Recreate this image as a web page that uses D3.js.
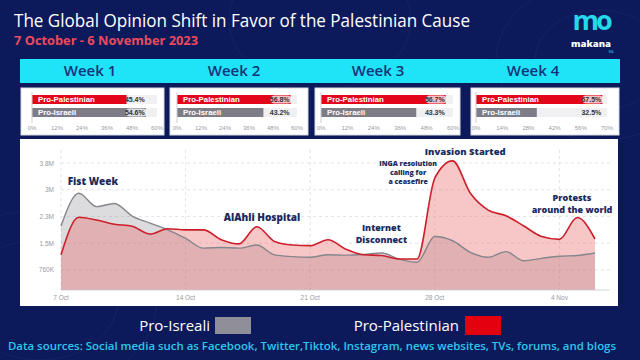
<!DOCTYPE html>
<html><head><meta charset="utf-8">
<script src="https://cdn.jsdelivr.net/npm/d3@7"></script>
<style>
html,body{margin:0;padding:0;background:#0c1a5b;}
svg{display:block;}
</style></head>
<body>
<svg id="c" width="640" height="360"></svg>
<script>
// ---------- DATA ----------
const weeks = ["Week 1", "Week 2", "Week 3", "Week 4"];
const proPalestinianShare = [45.4, 56.8, 56.7, 67.5];
const proIsraeliShare = [54.6, 43.2, 43.3, 32.5];
const weekAxisMax = [60, 60, 60, 70];

const startDate = new Date(2023, 9, 7);
const days = d3.range(31).map(i => d3.timeDay.offset(startDate, i));
// millions of mentions per day (7 Oct - 6 Nov)
const proIsraeli = [2.01, 2.94, 2.56, 2.65, 2.29, 2.09, 1.90, 1.66, 1.38, 1.40, 1.38, 1.47, 1.19, 1.14, 1.12,
  1.19, 1.18, 1.20, 1.24, 1.07, 0.98, 1.71, 1.59, 1.26, 1.12, 1.28, 1.02, 1.09, 1.15, 1.17, 1.24];
const proPalestinian = [1.19, 2.26, 2.18, 2.06, 2.00, 1.78, 1.93, 1.90, 1.90, 1.62, 1.50, 1.99, 1.57, 1.47, 1.45,
  1.62, 1.35, 1.19, 1.17, 1.07, 1.07, 3.37, 3.86, 2.94, 2.46, 2.30, 2.01, 1.71, 1.63, 2.25, 1.64];
const yMin = 0.19;
const yTicks = [0.76, 1.52, 2.28, 3.04, 3.8];
const yTickLabels = ["760K", "1.5M", "2.3M", "3M", "3.8M"];
const xTickDates = [new Date(2023,9,7), new Date(2023,9,14), new Date(2023,9,21), new Date(2023,9,28), new Date(2023,10,4)];
const xTickLabels = ["7 Oct", "14 Oct", "21 Oct", "28 Oct", "4 Nov"];

// day = days after 7 Oct, v = value level of the first text line
const annotations = [
  {day: 1.8, v: 3.17, lines: ["Fist Week"], size: 10},
  {day: 11.3, v: 2.15, lines: ["AlAhli Hospital"], size: 10},
  {day: 18.0, v: 1.87, lines: ["Internet", "Disconnect"], size: 9},
  {day: 19.5, v: 3.71, lines: ["INGA resolution", "calling for", "a ceasefire"], size: 7},
  {day: 22.7, v: 4.03, lines: ["Invasion Started"], size: 9.5},
  {day: 28.7, v: 2.72, lines: ["Protests", "around the world"], size: 9}
];

// ---------- DRAW ----------
const svg = d3.select("#c");
const navy = "#0c1a5b";
svg.append("rect").attr("width", 640).attr("height", 360).attr("fill", navy);

// faint contour texture
const tex = svg.append("g").attr("fill", "none").attr("stroke", "#2a3a7a").attr("stroke-opacity", 0.35).attr("stroke-width", 0.8);
[[40,300,60],[40,300,90],[600,60,50],[600,60,80],[320,20,70]].forEach(([cx,cy,r]) => {
  tex.append("ellipse").attr("cx", cx).attr("cy", cy).attr("rx", r*1.3).attr("ry", r);
});

// title
svg.append("text").attr("x", 14).attr("y", 27).attr("fill", "#ffffff")
  .attr("font-family", "Open Sans, sans-serif").attr("font-size", 18).attr("font-weight", 400)
  .attr("textLength", 456).attr("lengthAdjust", "spacingAndGlyphs")
  .text("The Global Opinion Shift in Favor of the Palestinian Cause");
svg.append("text").attr("x", 14).attr("y", 45).attr("fill", "#ea4a5e")
  .attr("font-family", "Open Sans, sans-serif").attr("font-size", 13).attr("font-weight", 700)
  .attr("textLength", 184).attr("lengthAdjust", "spacingAndGlyphs")
  .text("7 October - 6 November 2023");

// logo
svg.append("text").attr("x", 591).attr("y", 30).attr("text-anchor", "middle").attr("fill", "#25d9ec")
  .attr("font-family", "Open Sans, sans-serif").attr("font-size", 27).attr("font-weight", 700)
  .attr("letter-spacing", -3).text("mo");
svg.append("text").attr("x", 591).attr("y", 47).attr("text-anchor", "middle").attr("fill", "#ffffff")
  .attr("font-family", "Open Sans, sans-serif").attr("font-size", 9.5).attr("font-weight", 800)
  .text("makana");
svg.append("text").attr("x", 611).attr("y", 53).attr("text-anchor", "middle").attr("fill", "#25d9ec")
  .attr("font-family", "Open Sans, sans-serif").attr("font-size", 3).text("MA");

// cyan week band
svg.append("rect").attr("x", 20).attr("y", 59).attr("width", 600).attr("height", 24).attr("fill", "#1fe3f6");
const weekCenters = [90, 234, 378, 533];
svg.selectAll("text.week").data(weeks).join("text").attr("class", "week")
  .attr("x", (d, i) => weekCenters[i]).attr("y", 76).attr("text-anchor", "middle")
  .attr("fill", "#123478").attr("font-family", "Open Sans, sans-serif").attr("font-size", 15).attr("font-weight", 600)
  .text(d => d);

// weekly share panels
const panels = [
  {x0: 21, x1: 164, r0: 32, r1: 157},
  {x0: 170, x1: 308, r0: 177, r1: 297},
  {x0: 315, x1: 460, r0: 321, r1: 453},
  {x0: 471, x1: 619, r0: 476, r1: 607}
];
panels.forEach((p, i) => {
  const g = svg.append("g");
  g.append("rect").attr("x", p.x0).attr("y", 88).attr("width", p.x1 - p.x0).attr("height", 47)
    .attr("fill", "#ffffff").attr("stroke", "#d7d9e0").attr("stroke-width", 1);
  const xs = d3.scaleLinear().domain([0, weekAxisMax[i]]).range([p.r0, p.r1]);
  const rows = [
    {name: "Pro-Palestinian", v: proPalestinianShare[i], color: "#e3061b", y: 95},
    {name: "Pro-Israeli", v: proIsraeliShare[i], color: "#7e7d87", y: 108}
  ];
  const vmax = d3.max(rows, r => r.v);
  rows.forEach(r => {
    g.append("rect").attr("x", xs(0)).attr("y", r.y).attr("width", xs(weekAxisMax[i]) - xs(0)).attr("height", 9).attr("fill", "#f0f0f2");
    g.append("rect").attr("x", xs(0)).attr("y", r.y).attr("width", xs(r.v) - xs(0)).attr("height", 9).attr("fill", r.color);
    g.append("text").attr("x", xs(0) + 6).attr("y", r.y + 7).attr("fill", "#ffffff")
      .attr("font-family", "Liberation Sans, Arial, sans-serif").attr("font-size", 7.8).attr("font-weight", 700).text(r.name);
    const lx = xs(vmax) + 1;
    if (r.v === vmax) {
      g.append("rect").attr("x", lx - 21).attr("y", r.y + 0.5).attr("width", 21).attr("height", 8).attr("rx", 4)
        .attr("fill", "#ffffff").attr("fill-opacity", 0.75);
    }
    g.append("text").attr("x", lx - 2).attr("y", r.y + 7).attr("text-anchor", "end").attr("fill", "#333")
      .attr("font-family", "Liberation Sans, Arial, sans-serif").attr("font-size", 7).attr("font-weight", 700)
      .text(d3.format(".1f")(r.v) + "%");
  });
  g.append("line").attr("x1", xs(0)).attr("x2", xs(0)).attr("y1", 92).attr("y2", 123).attr("stroke", "#cfcfd4");
  const ticks = d3.range(0, weekAxisMax[i] + 0.001, weekAxisMax[i] / 5);
  g.selectAll("text.t").data(ticks).join("text").attr("class", "t")
    .attr("x", d => xs(d)).attr("y", 130).attr("text-anchor", "middle").attr("fill", "#9a9aa3")
    .attr("font-family", "Liberation Sans, Arial, sans-serif").attr("font-size", 6).text(d => d + "%");
});

// main chart panel
svg.append("rect").attr("x", 20).attr("y", 139).attr("width", 598).attr("height", 167).attr("fill", "#ffffff");
const x = d3.scaleTime().domain([days[0], days[30]]).range([61, 595]);
const y = d3.scaleLinear().domain([yMin, 3.8]).range([290, 163]);

const grid = svg.append("g").attr("stroke", "#dcdce2").attr("stroke-dasharray", "3,3").attr("stroke-width", 0.8);
yTicks.forEach(t => grid.append("line").attr("x1", 61).attr("x2", 610).attr("y1", y(t)).attr("y2", y(t)));
xTickDates.forEach(t =>
  grid.append("line").attr("x1", x(t)).attr("x2", x(t)).attr("y1", 150).attr("y2", 290));

const curve = d3.curveMonotoneX;
const areaGen = vals => d3.area().x((d, i) => x(days[i])).y0(y(yMin)).y1(d => y(d)).curve(curve)(vals);
const lineGen = vals => d3.line().x((d, i) => x(days[i])).y(d => y(d)).curve(curve)(vals);

svg.append("path").attr("d", areaGen(proIsraeli)).attr("fill", "#8c8c96").attr("fill-opacity", 0.3);
svg.append("path").attr("d", areaGen(proPalestinian)).attr("fill", "#ea6464").attr("fill-opacity", 0.36);
svg.append("path").attr("d", lineGen(proIsraeli)).attr("fill", "none").attr("stroke", "#85858d").attr("stroke-width", 1.4);
svg.append("path").attr("d", lineGen(proPalestinian)).attr("fill", "none").attr("stroke", "#cc1f2a").attr("stroke-width", 1.6);

svg.append("line").attr("x1", 61).attr("x2", 610).attr("y1", 290).attr("y2", 290).attr("stroke", "#c8c8ce").attr("stroke-width", 0.8);

svg.selectAll("text.yl").data(yTicks).join("text").attr("class", "yl")
  .attr("x", 54).attr("y", (d) => y(d) + 2.5).attr("text-anchor", "end").attr("fill", "#9a9aa3")
  .attr("font-family", "Liberation Sans, Arial, sans-serif").attr("font-size", 6.5)
  .text((d, i) => yTickLabels[i]);
svg.selectAll("text.xl").data(xTickDates).join("text").attr("class", "xl")
  .attr("x", d => x(d)).attr("y", 300).attr("text-anchor", "middle").attr("fill", "#9a9aa3")
  .attr("font-family", "Liberation Sans, Arial, sans-serif").attr("font-size", 6.5)
  .text((d, i) => xTickLabels[i]);

annotations.forEach(a => {
  const ax = x(d3.timeHour.offset(startDate, Math.round(a.day * 24)));
  const t = svg.append("text").attr("x", ax).attr("y", y(a.v)).attr("text-anchor", "middle")
    .attr("fill", "#1a2a5e").attr("font-family", "Open Sans, sans-serif").attr("font-size", a.size).attr("font-weight", 800);
  a.lines.forEach((l, i) => t.append("tspan").attr("x", ax).attr("dy", i === 0 ? 0 : a.size * 1.3).text(l));
});

// legend
const lg = svg.append("g").attr("font-family", "Open Sans, sans-serif").attr("font-size", 15).attr("fill", "#ffffff");
lg.append("text").attr("x", 210).attr("y", 331).attr("text-anchor", "end").text("Pro-Isreali");
lg.append("rect").attr("x", 215).attr("y", 317).attr("width", 36).attr("height", 17).attr("fill", "#8f8e99");
lg.append("text").attr("x", 459).attr("y", 331).attr("text-anchor", "end").text("Pro-Palestinian");
lg.append("rect").attr("x", 465).attr("y", 316).attr("width", 36).attr("height", 19).attr("fill", "#e3000f");

svg.append("text").attr("x", 8).attr("y", 350).attr("fill", "#2ec6ea")
  .attr("font-family", "Open Sans, sans-serif").attr("font-size", 11.5).attr("font-weight", 600)
  .attr("textLength", 608).attr("lengthAdjust", "spacingAndGlyphs")
  .text("Data sources: Social media such as Facebook, Twitter,Tiktok, Instagram, news websites, TVs, forums, and blogs");
</script>
</body></html>
